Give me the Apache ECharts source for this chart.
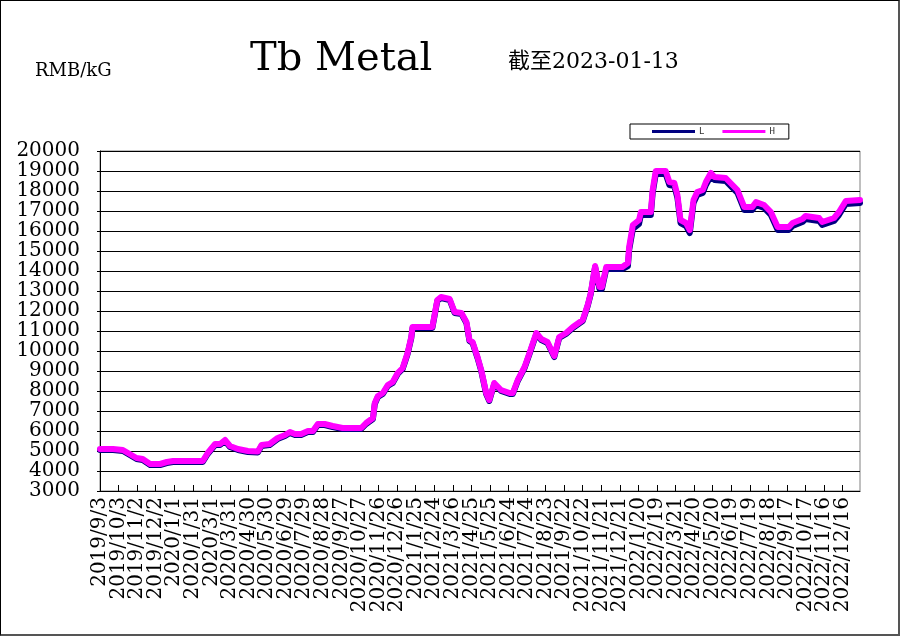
<!DOCTYPE html>
<html>
<head>
<meta charset="utf-8">
<script src="https://cdn.jsdelivr.net/npm/echarts@6/dist/echarts.min.js"></script>
<style>
html,body{margin:0;padding:0;background:#fff;}
#wrap{width:900px;height:636px;box-sizing:border-box;border:1px solid #000;border-right:2px solid #555;border-bottom:2px solid #555;position:relative;overflow:hidden;}
#chart{position:absolute;left:-1px;top:-1px;width:900px;height:636px;}
</style>
</head>
<body>
<div id="wrap"><div id="chart"></div></div>
<script>
const startDate = '2019/9/3';
const dates = ['2019/9/3','2019/9/24','2019/10/10','2019/11/1','2019/11/11','2019/11/23','2019/12/9','2019/12/20','2019/12/30','2020/2/16',
'2020/2/24','2020/3/7','2020/3/15','2020/3/23','2020/3/31','2020/4/13','2020/4/29','2020/5/15','2020/5/21','2020/6/3',
'2020/6/16','2020/6/28','2020/7/6','2020/7/14','2020/7/24','2020/8/4','2020/8/12','2020/8/20','2020/8/31','2020/9/13',
'2020/9/29','2020/10/29','2020/11/6','2020/11/17','2020/11/20','2020/11/25','2020/12/3','2020/12/11','2020/12/19','2020/12/27',
'2021/1/4','2021/1/12','2021/1/18','2021/1/20','2021/2/21','2021/3/1','2021/3/7','2021/3/21','2021/3/29','2021/4/9',
'2021/4/17','2021/4/22','2021/4/27','2021/5/5','2021/5/11','2021/5/19','2021/5/24','2021/6/1','2021/6/12','2021/6/26',
'2021/7/1','2021/7/9','2021/7/20','2021/7/28','2021/8/8','2021/8/16','2021/8/26','2021/9/6','2021/9/14','2021/9/25',
'2021/10/6','2021/10/22','2021/10/30','2021/11/4','2021/11/11','2021/11/18','2021/11/22','2021/11/29','2021/12/25','2022/1/3',
'2022/1/5','2022/1/11','2022/1/21','2022/1/24','2022/2/9','2022/2/12','2022/2/17','2022/3/5','2022/3/11','2022/3/19',
'2022/3/24','2022/3/29','2022/4/7','2022/4/13','2022/4/19','2022/4/25','2022/5/4','2022/5/9','2022/5/17','2022/5/23',
'2022/6/10','2022/6/21','2022/6/29','2022/7/10','2022/7/23','2022/7/29','2022/8/11','2022/8/22','2022/9/2','2022/9/20',
'2022/9/26','2022/10/12','2022/10/17','2022/11/8','2022/11/13','2022/12/2','2022/12/10','2022/12/21','2023/1/13'];
const endDate = '2023/1/13';
const highPrices = [5100,5100,5050,4650,4600,4350,4350,4450,4500,4500,
4900,5350,5350,5550,5250,5100,5000,4980,5300,5350,
5650,5800,5950,5850,5850,6000,6000,6350,6350,6250,
6150,6150,6400,6650,7400,7750,7900,8300,8450,8900,
9150,9900,10700,11200,11200,12550,12700,12600,11950,11900,
11450,10550,10450,9700,9050,7900,7550,8400,8050,7900,
7900,8550,9200,9900,10900,10600,10450,9750,10700,10900,
11200,11550,12300,12900,14250,13200,13200,14200,14200,14400,
15200,16300,16550,16950,16950,18050,19000,19000,18450,18400,
17800,16550,16400,16050,17550,17950,18050,18450,18900,18700,
18650,18300,18050,17200,17200,17450,17300,16950,16200,16200,
16400,16600,16750,16650,16450,16650,16950,17500,17550];
const lowPrices = [5050,5050,5000,4600,4550,4300,4300,4400,4450,4450,
4850,5300,5300,5500,5200,5050,4950,4930,5250,5300,
5600,5750,5900,5800,5800,5950,5950,6300,6300,6200,
6100,6100,6350,6600,7350,7700,7850,8250,8400,8850,
9100,9850,10650,11150,11150,12500,12650,12550,11900,11850,
11400,10500,10400,9650,9000,7850,7500,8350,8000,7850,
7850,8500,9150,9850,10850,10550,10400,9700,10650,10850,
11150,11500,12250,12850,14200,13100,13100,14100,14100,14250,
15050,16100,16350,16800,16800,17900,18850,18850,18300,18250,
17650,16400,16250,15900,17400,17800,17900,18300,18750,18550,
18500,18150,17900,17050,17050,17300,17150,16800,16050,16050,
16250,16450,16600,16500,16300,16500,16800,17350,17400];
const yTicks = {min: 3000, max: 20000, step: 1000};
const xLabelStepDays = 30;

function toUTC(s){ const p = s.split('/').map(Number); return Date.UTC(p[0], p[1]-1, p[2]); }
const base = toUTC(startDate);
function dayIndex(s){ return Math.round((toUTC(s) - base) / 86400000); }
function dayLabel(d){ const t = new Date(base + Math.round(d) * 86400000); return t.getUTCFullYear() + '/' + (t.getUTCMonth()+1) + '/' + t.getUTCDate(); }

const lowData = dates.map((d,i)=>[dayIndex(d), lowPrices[i]]);
const highData = dates.map((d,i)=>[dayIndex(d), highPrices[i]]);
const lastDay = dayIndex(endDate);

const serif = "'DejaVu Serif', 'Liberation Serif', serif";
const xLabelStyle = {rotate: 90, margin: 6, hideOverlap: false, color: '#000', fontFamily: serif, fontSize: 20};
const chart = echarts.init(document.getElementById('chart'));
chart.setOption({
  animation: false,
  backgroundColor: '#fff',
  title: [
    {text: 'Tb Metal', left: 250, top: 40, padding: 0, textStyle: {fontFamily: serif, fontSize: 40, fontWeight: 'normal', color: '#000'}},
    {text: '截至2023-01-13', left: 508, top: 51, padding: 0, textStyle: {fontFamily: "'DejaVu Serif', 'Noto Sans CJK SC', serif", fontSize: 22, fontWeight: 'normal', color: '#000'}},
    {text: 'RMB/kG', left: 35, top: 62, padding: 0, textStyle: {fontFamily: serif, fontSize: 18, fontWeight: 'normal', color: '#000'}}
  ],
  legend: {
    left: 630, top: 124, padding: [3, 14, 3, 22], itemGap: 18,
    itemWidth: 43, itemHeight: 3, icon: 'rect',
    borderColor: '#000', borderWidth: 1, backgroundColor: '#fff',
    textStyle: {fontSize: 9, color: '#333', fontFamily: "'DejaVu Sans Mono', monospace", padding: [0,0,0,-1]},
    data: ['L', 'H']
  },
  grid: {left: 100, right: 40, top: 151, bottom: 145, show: true, borderColor: '#808080', borderWidth: 1},
  xAxis: [
    {
      type: 'value', min: 0, max: lastDay, interval: xLabelStepDays, position: 'bottom',
      axisLine: {lineStyle: {color: '#000', width: 1}},
      axisTick: {inside: true, length: 6, lineStyle: {color: '#000'}},
      splitLine: {show: false},
      axisLabel: Object.assign({}, xLabelStyle, {showMinLabel: false, showMaxLabel: false,
        formatter: v => (v > lastDay - 13) ? '' : dayLabel(v)})
    },
    {
      type: 'value', min: 0, max: lastDay, interval: xLabelStepDays, position: 'bottom',
      axisLine: {show: false}, axisTick: {show: false}, splitLine: {show: false},
      axisLabel: Object.assign({}, xLabelStyle, {showMinLabel: true, showMaxLabel: false,
        formatter: v => (v === 0) ? dayLabel(v) : ''})
    }
  ],
  yAxis: {
    type: 'value', min: yTicks.min, max: yTicks.max, interval: yTicks.step,
    axisLine: {show: true, lineStyle: {color: '#000', width: 1}},
    axisTick: {show: true, length: 3, lineStyle: {color: '#000'}},
    splitLine: {lineStyle: {color: '#000', width: 1}},
    axisLabel: {margin: 20, color: '#000', fontFamily: serif, fontSize: 20, formatter: v => String(v)}
  },
  series: [
    {name: 'L', type: 'line', xAxisIndex: 0, data: lowData, showSymbol: false, symbol: 'none', color: '#000080',
      lineStyle: {color: '#000080', width: 6, join: 'round', cap: 'round'}},
    {name: 'H', type: 'line', xAxisIndex: 0, data: highData, showSymbol: false, symbol: 'none', color: '#FF00FF',
      lineStyle: {color: '#FF00FF', width: 6, join: 'round', cap: 'round'}}
  ]
});
</script>
</body>
</html>
